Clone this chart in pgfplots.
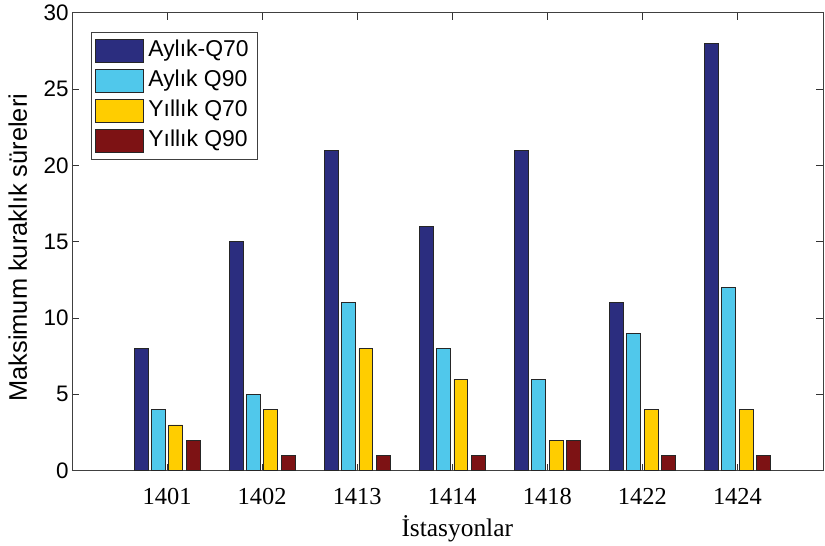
\documentclass[border=0pt]{standalone}
\usepackage{fontspec}
\setmainfont{Liberation Serif}
\setsansfont{Liberation Sans}
\usepackage{pgfplots}
\pgfplotsset{compat=1.18}
\definecolor{cA}{RGB}{43,45,127}
\definecolor{cB}{RGB}{80,200,235}
\definecolor{cC}{RGB}{255,205,0}
\definecolor{cD}{RGB}{125,18,20}
\pgfplotsset{myleg/.style={legend image code/.code={\draw[##1] (0bp,-11.5bp) rectangle (48bp,11.5bp);}}}
\begin{document}
\begin{tikzpicture}
\begin{axis}[
  scale only axis,
  width=751bp, height=458bp,
  xmin=0, xmax=7.9, ymin=0, ymax=30,
  xtick={1,2,3,4,5,6,7},
  xticklabels={1401,1402,1413,1414,1418,1422,1424},
  ytick={0,5,10,15,20,25,30},
  tick align=inside,
  major tick length=7bp,
  tick style={black!80, line width=0.8bp},
  axis line style={black!75, line width=0.9bp},
  /pgf/number format/assume math mode=true,
  xticklabel style={font=\rmfamily\fontsize{24.5}{28}\selectfont, yshift=-14bp},
  yticklabel style={font=\sffamily\fontsize{22.5}{26}\selectfont},
  xlabel={İstasyonlar},
  xlabel style={font=\rmfamily\fontsize{25.5}{30}\selectfont, at={(axis description cs:0.513,0)}, anchor=base, yshift=-66bp},
  ylabel={Maksimum kuraklık süreleri},
  ylabel style={font=\sffamily\fontsize{25.5}{30}\selectfont, at={(axis description cs:-0.06,0.487)}, anchor=base},
  legend style={at={(axis description cs:0,1)}, anchor=north west, xshift=18.7bp, yshift=-19.3bp,
    draw=black!75, line width=0.8bp, inner sep=3.5bp,
    font=\sffamily\fontsize{23}{27}\selectfont,
    nodes={inner xsep=5bp, inner ysep=3.5bp, text height=17bp, text depth=6bp, anchor=west},
    cells={anchor=west}},
  legend cell align=left,
]
\addplot[ybar, myleg, bar width=0.146, bar shift=-0.273, fill=cA, draw=black!85, line width=0.8bp] coordinates {(1,8) (2,15) (3,21) (4,16) (5,21) (6,11) (7,28)};
\addplot[ybar, myleg, bar width=0.146, bar shift=-0.091, fill=cB, draw=black!85, line width=0.8bp] coordinates {(1,4) (2,5) (3,11) (4,8) (5,6) (6,9) (7,12)};
\addplot[ybar, myleg, bar width=0.146, bar shift=0.091, fill=cC, draw=black!85, line width=0.8bp] coordinates {(1,3) (2,4) (3,8) (4,6) (5,2) (6,4) (7,4)};
\addplot[ybar, myleg, bar width=0.146, bar shift=0.273, fill=cD, draw=black!85, line width=0.8bp] coordinates {(1,2) (2,1) (3,1) (4,1) (5,2) (6,1) (7,1)};
\legend{Aylık-Q70, Aylık Q90, Yıllık Q70, Yıllık Q90}
\coordinate (sw) at (rel axis cs:0,0);
\coordinate (ne) at (rel axis cs:1,1);
\end{axis}
\pgfresetboundingbox
\path[use as bounding box] ([shift={(-72bp,-75bp)}]sw) rectangle ([shift={(2bp,12.7bp)}]ne);
\end{tikzpicture}
\end{document}
